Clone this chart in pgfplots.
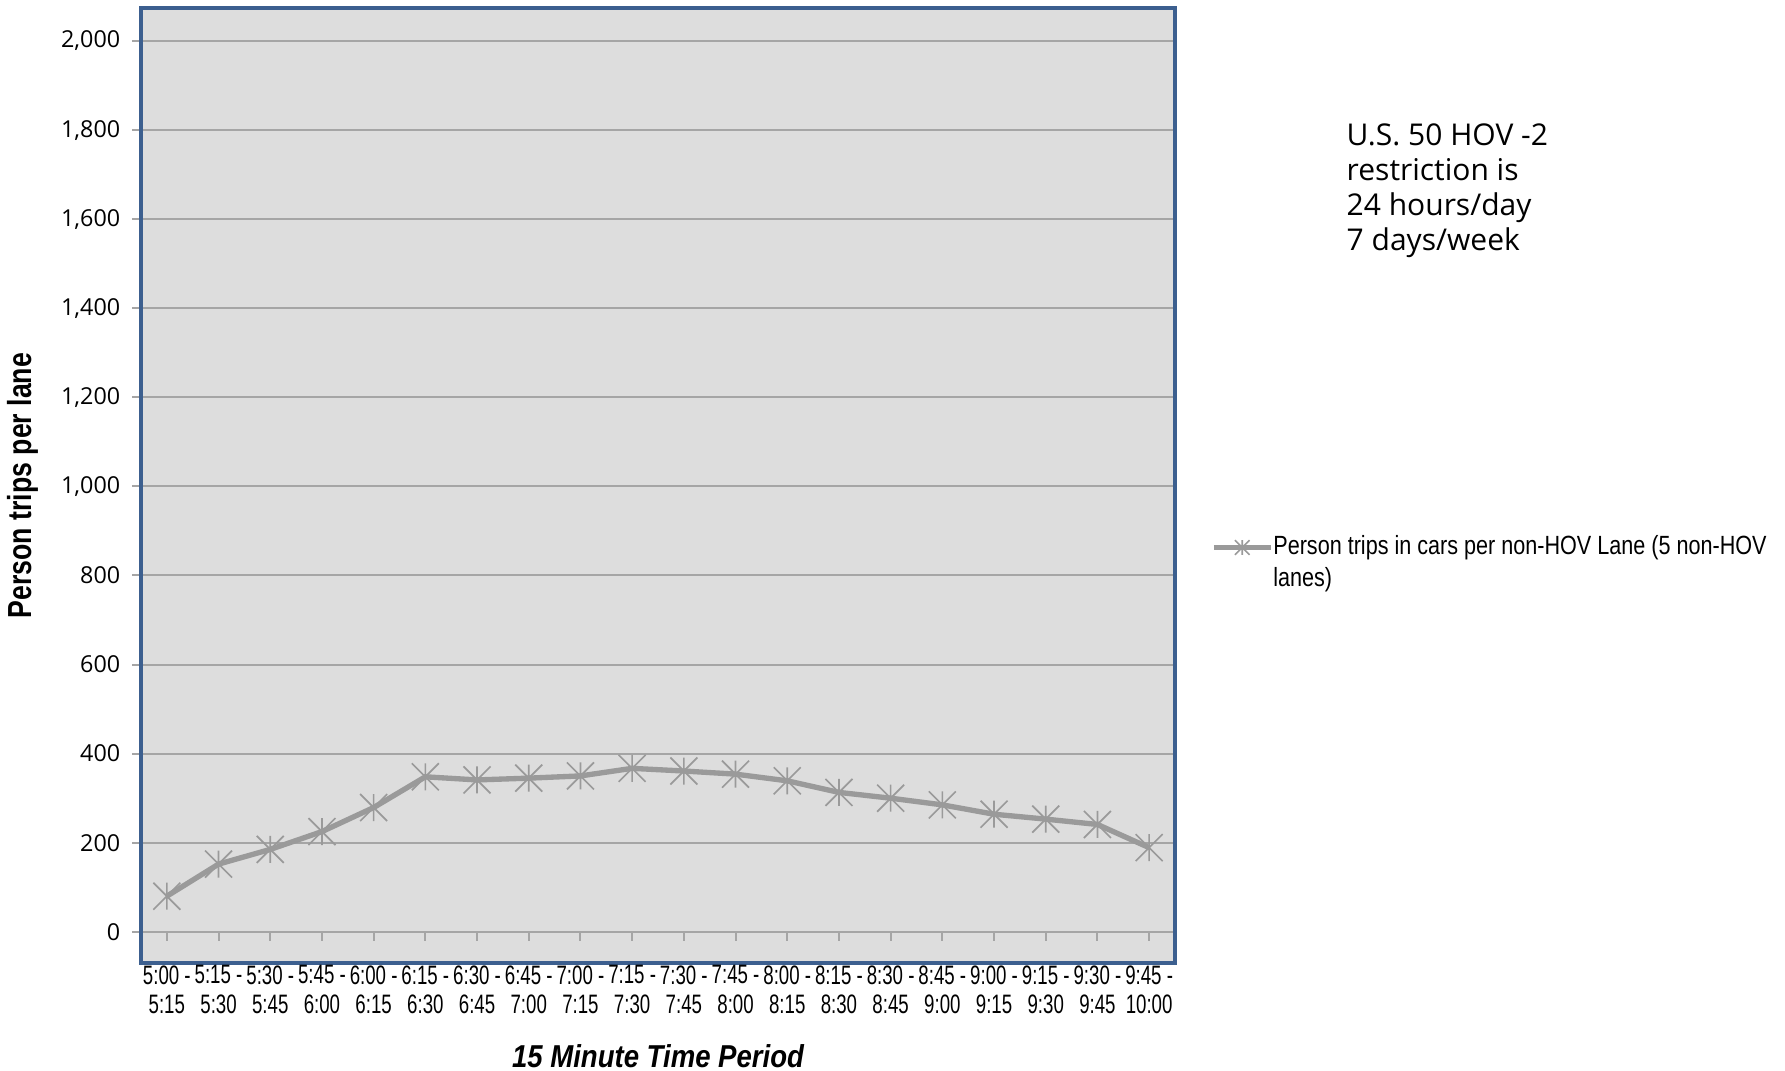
\documentclass[border=0pt]{standalone}
\usepackage{fontspec}
\usepackage{pgfplots}
\pgfplotsset{compat=1.18}
\setmainfont{Liberation Sans}
\newfontfamily\condfont{Liberation Sans}[FakeStretch=0.7]
\newfontfamily\labfont{Liberation Sans}[FakeStretch=0.8]
\newfontfamily\xlabfont{Liberation Sans}[FakeStretch=0.87]
\newfontfamily\legfont{Liberation Sans}[FakeStretch=0.82]
\newfontfamily\tickfont{Open Sans}
\newfontfamily\notefont{Open Sans}
\definecolor{plotbg}{HTML}{DDDDDD}
\definecolor{borderblue}{HTML}{3C5F8F}
\definecolor{gridgray}{HTML}{A5A5A5}
\definecolor{linegray}{HTML}{9A9A9A}
\pgfdeclareplotmark{xstar}{%
  \pgfpathmoveto{\pgfqpoint{-\pgfplotmarksize}{-\pgfplotmarksize}}%
  \pgfpathlineto{\pgfqpoint{\pgfplotmarksize}{\pgfplotmarksize}}%
  \pgfpathmoveto{\pgfqpoint{-\pgfplotmarksize}{\pgfplotmarksize}}%
  \pgfpathlineto{\pgfqpoint{\pgfplotmarksize}{-\pgfplotmarksize}}%
  \pgfpathmoveto{\pgfqpoint{0pt}{-\pgfplotmarksize}}%
  \pgfpathlineto{\pgfqpoint{0pt}{\pgfplotmarksize}}%
  \pgfusepathqstroke}
\begin{document}
\begin{tikzpicture}
\path[use as bounding box] (-42.3pt,-32.4pt) rectangle (493.2pt,288.9pt);
\begin{axis}[
  at={(0,0)}, anchor=south west,
  scale only axis, width=310.2pt, height=286.5pt,
  xmin=-0.5, xmax=19.5, ymin=-70, ymax=2074,
  axis background/.style={fill=plotbg},
  axis line style={borderblue, line width=1.4pt},
  ytick={0,200,...,2000},
  ymajorgrids, grid style={gridgray, line width=0.6pt},
  xtick={0,...,19},
  xticklabels={{5:00 -\\5:15},{5:15 -\\5:30},{5:30 -\\5:45},{5:45 -\\6:00},{6:00 -\\6:15},{6:15 -\\6:30},{6:30 -\\6:45},{6:45 -\\7:00},{7:00 -\\7:15},{7:15 -\\7:30},{7:30 -\\7:45},{7:45 -\\8:00},{8:00 -\\8:15},{8:15 -\\8:30},{8:30 -\\8:45},{8:45 -\\9:00},{9:00 -\\9:15},{9:15 -\\9:30},{9:30 -\\9:45},{9:45 -\\10:00}},
  x tick label style={font=\condfont\fontsize{8}{8.9}\selectfont, align=center, yshift=5.5pt},
  y tick label style={font=\tickfont\fontsize{7}{8}\selectfont},
  /pgf/number format/assume math mode=true,
  /pgf/number format/1000 sep={,},
  xtick pos=bottom, ytick pos=left,
  tick align=outside, major tick length=2.7pt,
  xtick style={gridgray, line width=0.6pt, yshift=9.354pt},
  ytick style={gridgray, line width=0.6pt},
  xlabel={15 Minute Time Period},
  xlabel style={at={(axis description cs:0.5,0)}, anchor=center, yshift=-27.9pt, font=\xlabfont\bfseries\itshape\fontsize{9.5}{11}\selectfont},
  ylabel={Person trips per lane},
  ylabel style={at={(axis description cs:-0.1145,0.5)}, anchor=center, font=\labfont\bfseries\fontsize{10}{12}\selectfont},
  legend style={at={(axis description cs:1.0343,0.4554)}, anchor=north west, draw=none, fill=none, inner sep=0pt,
    font=\legfont\fontsize{7.9}{9.6}\selectfont, legend cell align=left},
  clip=false,
]
\addplot[linegray, line width=1.6pt, mark=xstar, mark size=4.05pt, mark options={line width=0.5pt, solid},
  legend image post style={mark size=2.2pt}]
coordinates {(0,80) (1,152) (2,185) (3,225) (4,279) (5,348) (6,341) (7,345) (8,350) (9,367) (10,361) (11,354) (12,339) (13,313) (14,300) (15,285) (16,264) (17,253) (18,241) (19,189)};
\addlegendentry{\hspace*{-2pt}\parbox[t]{175pt}{\raggedright Person trips in cars per non-HOV Lane (5 non-HOV\\lanes)}}
\node[anchor=north west, inner sep=0pt, align=left, font=\notefont\fontsize{9}{10.5}\selectfont] at (axis description cs:1.1654,0.8796) {U.S. 50 HOV -2\\restriction is\\24 hours/day\\7 days/week};
\end{axis}
\end{tikzpicture}
\end{document}
